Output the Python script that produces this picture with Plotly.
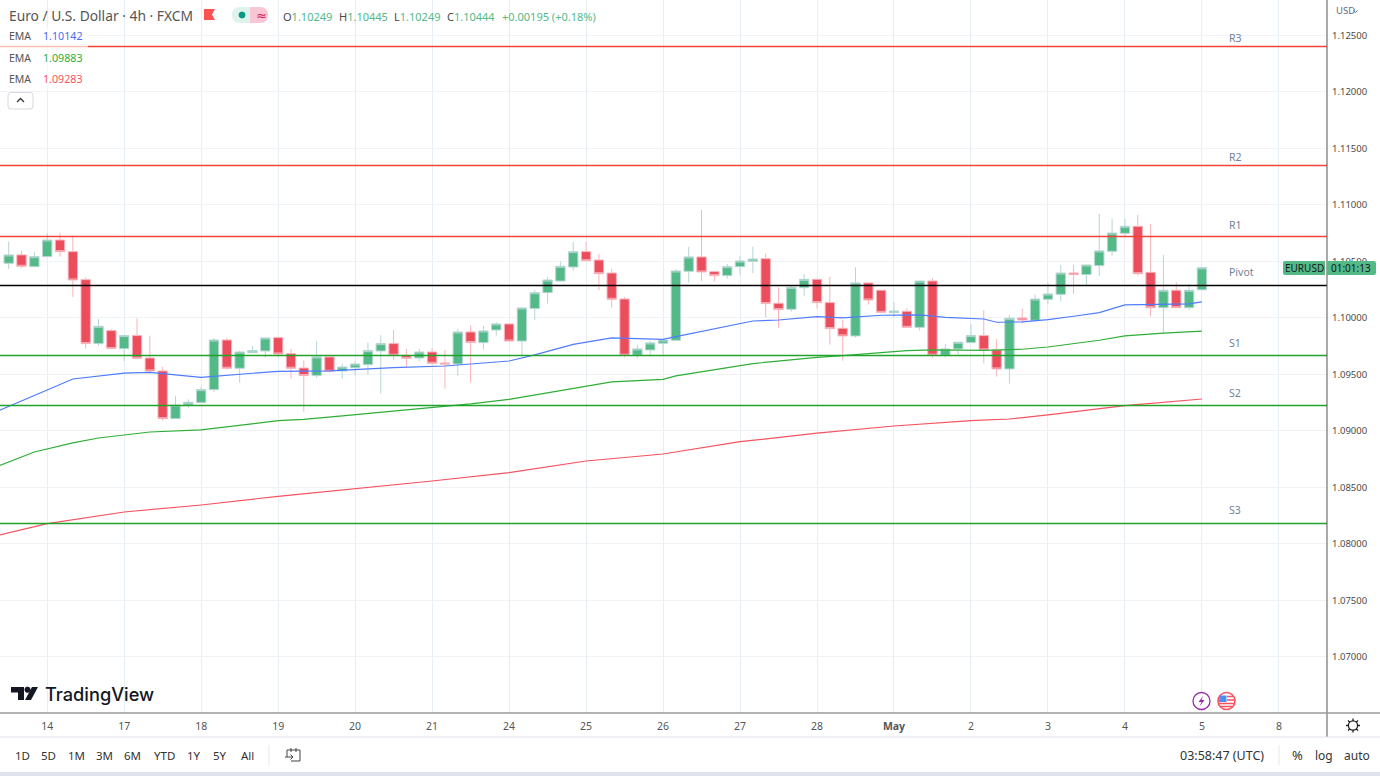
import plotly.graph_objects as go

W, H = 1380, 776
PLOT_R, PLOT_B = 1327, 713

GREEN = "#53b987"
RED = "#eb4d5c"

# 4h candles, oldest first
opens = [1.10484, 1.10558, 1.10454, 1.10543, 1.10690, 1.10587, 1.10339, 1.09773, 1.09888, 1.09729,
         1.09844, 1.09646, 1.09531, 1.09109, 1.09230, 1.09251, 1.09366, 1.09805, 1.09555, 1.09693,
         1.09708, 1.09826, 1.09684, 1.09557, 1.09490, 1.09655, 1.09531, 1.09560, 1.09587, 1.09708,
         1.09773, 1.09670, 1.09646, 1.09699, 1.09602, 1.09593, 1.09876, 1.09782, 1.09894, 1.09947,
         1.09796, 1.10083, 1.10224, 1.10327, 1.10451, 1.10587, 1.10513, 1.10398, 1.10168, 1.09670,
         1.09717, 1.09776, 1.09802, 1.10413, 1.10540, 1.10410, 1.10375, 1.10454, 1.10502, 1.10525,
         1.10130, 1.10077, 1.10268, 1.10342, 1.10136, 1.09909, 1.09841, 1.10310, 1.10245, 1.10047,
         1.10059, 1.09917, 1.10327, 1.09670, 1.09726, 1.09782, 1.09844, 1.09717, 1.09549, 1.10000,
         1.09979, 1.10165, 1.10209, 1.10398, 1.10384, 1.10463, 1.10590, 1.10749, 1.10811, 1.10404,
         1.10091, 1.10245, 1.10091, 1.10249]
highs = [1.10676, 1.10593, 1.10587, 1.10749, 1.10755, 1.10729, 1.10360, 1.09991, 1.09900, 1.09844,
         1.09997, 1.09844, 1.09569, 1.09310, 1.09280, 1.09392, 1.09823, 1.09823, 1.09711, 1.09752,
         1.09823, 1.09835, 1.09726, 1.09625, 1.09793, 1.09655, 1.09593, 1.09616, 1.09782, 1.09847,
         1.09894, 1.09726, 1.09726, 1.09732, 1.09717, 1.09903, 1.09935, 1.09929, 1.09962, 1.09947,
         1.10094, 1.10251, 1.10363, 1.10502, 1.10673, 1.10673, 1.10566, 1.10434, 1.10186, 1.09761,
         1.09796, 1.09811, 1.10431, 1.10628, 1.10956, 1.10410, 1.10478, 1.10549, 1.10631, 1.10569,
         1.10271, 1.10292, 1.10389, 1.10342, 1.10363, 1.09982, 1.10448, 1.10310, 1.10245, 1.10142,
         1.10086, 1.10327, 1.10351, 1.09767, 1.09785, 1.09947, 1.10068, 1.09814, 1.10027, 1.10080,
         1.10209, 1.10307, 1.10469, 1.10469, 1.10469, 1.10920, 1.10876, 1.10876, 1.10912, 1.10832,
         1.10558, 1.10316, 1.10301, 1.10445]
lows = [1.10434, 1.10440, 1.10454, 1.10543, 1.10543, 1.10186, 1.09729, 1.09755, 1.09729, 1.09619,
        1.09643, 1.09510, 1.09091, 1.09109, 1.09206, 1.09251, 1.09345, 1.09540, 1.09428, 1.09693,
        1.09649, 1.09652, 1.09463, 1.09171, 1.09472, 1.09516, 1.09463, 1.09490, 1.09498, 1.09330,
        1.09628, 1.09563, 1.09616, 1.09584, 1.09375, 1.09490, 1.09428, 1.09720, 1.09844, 1.09796,
        1.09664, 1.09982, 1.10127, 1.10327, 1.10419, 1.10507, 1.10248, 1.10094, 1.09652, 1.09643,
        1.09670, 1.09678, 1.09802, 1.10313, 1.10327, 1.10322, 1.10348, 1.10384, 1.10398, 1.10006,
        1.09914, 1.10056, 1.10195, 1.10083, 1.09764, 1.09622, 1.09826, 1.10118, 1.10047, 1.10006,
        1.09917, 1.09888, 1.09646, 1.09649, 1.09673, 1.09782, 1.09599, 1.09481, 1.09419, 1.09950,
        1.09979, 1.10124, 1.10145, 1.10212, 1.10292, 1.10372, 1.10552, 1.10714, 1.10375, 1.10012,
        1.09864, 1.10091, 1.10068, 1.10249]
closes = [1.10558, 1.10457, 1.10543, 1.10690, 1.10587, 1.10336, 1.09773, 1.09926, 1.09729, 1.09844,
          1.09643, 1.09531, 1.09109, 1.09230, 1.09254, 1.09366, 1.09805, 1.09555, 1.09699, 1.09711,
          1.09823, 1.09681, 1.09555, 1.09490, 1.09655, 1.09528, 1.09566, 1.09593, 1.09711, 1.09773,
          1.09670, 1.09643, 1.09699, 1.09599, 1.09593, 1.09876, 1.09782, 1.09885, 1.09947, 1.09796,
          1.10088, 1.10224, 1.10336, 1.10457, 1.10587, 1.10507, 1.10392, 1.10165, 1.09670, 1.09726,
          1.09779, 1.09805, 1.10416, 1.10540, 1.10407, 1.10375, 1.10454, 1.10504, 1.10522, 1.10127,
          1.10074, 1.10271, 1.10342, 1.10136, 1.09906, 1.09841, 1.10310, 1.10159, 1.10050, 1.10062,
          1.09917, 1.10327, 1.09670, 1.09726, 1.09785, 1.09844, 1.09717, 1.09549, 1.09997, 1.09982,
          1.10168, 1.10212, 1.10398, 1.10384, 1.10469, 1.10593, 1.10752, 1.10811, 1.10392, 1.10091,
          1.10245, 1.10091, 1.10245, 1.10444]

# session ticks on the time axis
tick_bars = [3, 9, 15, 21, 27, 33, 39, 45, 51, 57, 63, 69, 75, 81, 87, 93, 99]
tick_names = ["14", "17", "18", "19", "20", "21", "24", "25", "26", "27", "28", "<b>May</b>", "2", "3", "4", "5", "8"]
price_ticks = [1.07, 1.075, 1.08, 1.085, 1.09, 1.095, 1.10, 1.105, 1.11, 1.115, 1.12, 1.125]

# EMAs, read at the bars where the slope changes
ema_fast_bars = [-1, 5, 9, 11, 15, 19, 21, 25, 30, 34, 39, 41, 44, 47, 51, 52, 58, 60, 63, 65,
                 68, 71, 73, 76, 77, 79, 81, 83, 85, 87, 88, 92, 93]
ema_fast = [1.09168, 1.09460, 1.09511, 1.09519, 1.09475, 1.09511, 1.09528, 1.09531, 1.09560, 1.09575,
            1.09619, 1.09673, 1.09767, 1.09823, 1.09811, 1.09835, 1.09973, 1.09982, 1.10012, 1.10000,
            1.10024, 1.10027, 1.10006, 1.09991, 1.09962, 1.09965, 1.09985, 1.10015, 1.10047, 1.10115,
            1.10118, 1.10124, 1.10142]
ema_mid_bars = [-1, 2, 5, 7, 11, 15, 21, 23, 26, 36, 39, 42, 47, 51, 52, 58, 63, 65, 70, 72,
                76, 79, 81, 85, 87, 90, 93]
ema_mid = [1.08681, 1.08814, 1.08894, 1.08938, 1.08991, 1.09009, 1.09091, 1.09103, 1.09133, 1.09239,
           1.09280, 1.09339, 1.09434, 1.09457, 1.09487, 1.09596, 1.09652, 1.09666, 1.09711, 1.09717,
           1.09714, 1.09723, 1.09743, 1.09803, 1.09841, 1.09865, 1.09883]
ema_slow_bars = [-1, 3, 9, 15, 21, 27, 33, 39, 45, 51, 57, 63, 69, 75, 78, 81, 87, 93]
ema_slow = [1.08071, 1.08180, 1.08283, 1.08345, 1.08422, 1.08487, 1.08557, 1.08631, 1.08734, 1.08796,
            1.08905, 1.08980, 1.09044, 1.09091, 1.09106, 1.09142, 1.09224, 1.09283]

# pivot levels
level_names = ["R3", "R2", "R1", "Pivot", "S1", "S2", "S3"]
level_values = [1.12403, 1.11350, 1.10721, 1.10288, 1.09668, 1.09226, 1.08181]
level_colors = ["#f44336", "#f44336", "#f44336", "#000000", "#1fa32a", "#1fa32a", "#1fa32a"]
level_label_y = [38, 157, 225, 272, 343, 393, 510]

range_names = ["1D", "5D", "1M", "3M", "6M", "YTD", "1Y", "5Y", "All"]
range_x = [22, 48, 76, 104, 132, 164, 194, 220, 247]


def px_x(x):
    return x / W


def px_y(y):
    return 1 - y / H


def px_path(cmd):
    # "M 10 20 L 30 40" in screen pixels -> paper coordinates
    out = []
    parts = cmd.split()
    i = 0
    while i < len(parts):
        if parts[i].isalpha():
            out.append(parts[i])
            i += 1
        else:
            out.append(f"{px_x(float(parts[i])):.5f},{px_y(float(parts[i + 1])):.5f}")
            i += 2
    return " ".join(out)


def label(x, y, text, size=11, color="#4a4a4a", anchor="left", family="Noto Sans", weight=None):
    font = dict(size=size, color=color, family=family)
    if weight:
        font["weight"] = weight
    return dict(x=px_x(x), y=px_y(y), xref="paper", yref="paper", text=text, showarrow=False,
                xanchor=anchor, yanchor="middle", font=font, borderpad=0)


def path(cmd, fill=None, line=None, width=1):
    return dict(type="path", xref="paper", yref="paper", path=px_path(cmd),
                fillcolor=fill if fill else "rgba(0,0,0,0)",
                line=dict(color=line if line else "rgba(0,0,0,0)", width=width if line else 0))


def circle(cx, cy, r, fill, line=None, width=1):
    return dict(type="circle", xref="paper", yref="paper",
                x0=px_x(cx - r), x1=px_x(cx + r), y0=px_y(cy + r), y1=px_y(cy - r),
                fillcolor=fill, line=dict(color=line if line else fill, width=width))


fig = go.Figure()

for bars, vals, col in [(ema_slow_bars, ema_slow, "#f7525f"),
                        (ema_mid_bars, ema_mid, "#2fae37"),
                        (ema_fast_bars, ema_fast, "#4f7bff")]:
    fig.add_trace(go.Scatter(x=bars, y=vals, mode="lines", line=dict(color=col, width=1.2), hoverinfo="skip"))

for val, col in zip(level_values, level_colors):
    fig.add_trace(go.Scatter(x=[-5, 110], y=[val, val], mode="lines", line=dict(color=col, width=1.4), hoverinfo="skip"))

fig.add_trace(go.Candlestick(
    x=list(range(len(opens))), open=opens, high=highs, low=lows, close=closes,
    increasing=dict(line=dict(color="#b5d6d4", width=1), fillcolor=GREEN),
    decreasing=dict(line=dict(color="#f8b4bc", width=1), fillcolor=RED),
    hoverinfo="skip",
))

shapes = [
    # legend backdrop softens what passes behind it
    dict(type="rect", xref="paper", yref="paper", x0=0, x1=px_x(88), y0=px_y(89), y1=px_y(27),
         fillcolor="rgba(255,255,255,0.65)", line=dict(width=0)),
    # axis frame
    path(f"M {PLOT_R} 0 L {PLOT_R} 737", line="#555555", width=1),
    path(f"M 0 {PLOT_B} L {W} {PLOT_B}", line="#9a9a9a", width=1.5),
    path(f"M 0 737 L {W} 737", line="#e0e3eb", width=1),
    path("M 269 745 L 269 765", line="#e6e8ee", width=1),
    path("M 1279 745 L 1279 765", line="#e6e8ee", width=1),
    dict(type="rect", xref="paper", yref="paper", x0=0, x1=1, y0=0, y1=px_y(772),
         fillcolor="#e0e3eb", line=dict(width=0)),
    # header flag and status pill
    path("M 204 9 L 215 9 L 212 14.5 L 215 20 L 204 20 Z", fill="#ff5252"),
    path("M 250 7 L 240 7 Q 232 7 232 15 Q 232 23 240 23 L 250 23 Z", fill="#dff3ee"),
    path("M 250 7 L 260 7 Q 268 7 268 15 Q 268 23 260 23 L 250 23 Z", fill="#f9c6d6"),
    circle(242, 15, 3, "#089981"),
    # collapse button
    path("M 11 92.5 L 30 92.5 Q 33 92.5 33 95.5 L 33 106 Q 33 109 30 109 L 11 109 Q 8 109 8 106 L 8 95.5 Q 8 92.5 11 92.5 Z",
         fill="#ffffff", line="#d6d8de", width=1),
    path("M 17 102 L 20.5 98.5 L 24 102", line="#333333", width=1.3),
    # logo mark
    path("M 11 687 L 24 687 L 24 700 L 18 700 L 18 692.5 L 11 692.5 Z", fill="#131722"),
    circle(27.5, 689.7, 2.6, "#131722"),
    path("M 32 687 L 38 687 L 31 700 L 25 700 Z", fill="#131722"),
    # event markers
    circle(1201.5, 701, 8.5, "#ffffff", "#9c27b0", 1.3),
    path("M 1203.5 695.5 L 1198.5 702 L 1201.5 702 L 1199.5 706.5 L 1204.5 700 L 1201.5 700 Z", fill="#9c27b0"),
    circle(1226.5, 701, 8.5, "#ffffff", "#f7525f", 1.6),
    path("M 1219.5 695.5 L 1226.5 695.5 L 1226.5 702 L 1219 702 Z", fill="#4f8ef0"),
    path("M 1227 696.5 L 1233 696.5 M 1227 700 L 1234.5 700 M 1219 703.5 L 1234.5 703.5 M 1221 706.5 L 1232 706.5", line="#f7525f", width=1.3),
    # price tags
    path("M 1285 261 L 1325 261 L 1325 275 L 1285 275 Q 1283 275 1283 273 L 1283 263 Q 1283 261 1285 261 Z", fill=GREEN),
    path("M 1327 261 L 1374 261 Q 1376 261 1376 263 L 1376 273 Q 1376 275 1374 275 L 1327 275 Z", fill=GREEN),
    # currency menu chevron
    path("M 1353.5 10.5 L 1355.5 12.5 L 1357.5 10.5", line="#5b6b8c", width=1),
    # date-range icon
    path("M 287 757 L 287 750 L 300 750 L 300 761 L 291 761 M 291 748 L 291 752 M 296 748 L 296 752 M 285 757 L 293 757 M 290.5 754.5 L 293 757 L 290.5 759.5",
         line="#444444", width=1),
    # settings gear
    circle(1353, 725.5, 4.6, "#ffffff", "#222222", 1.3),
    path("M 1353 718.5 L 1353 721 M 1353 730 L 1353 732.5 M 1346 725.5 L 1348.5 725.5 M 1357.5 725.5 L 1360 725.5 "
         "M 1348 720.5 L 1349.8 722.3 M 1356.2 728.7 L 1358 730.5 M 1358 720.5 L 1356.2 722.3 M 1349.8 728.7 L 1348 730.5",
         line="#222222", width=1.3),
]

tick_green = "#53b987"
annotations = [
    label(8, 15, "Euro / U.S. Dollar · 4h · FXCM", size=13.8, color="#555555"),
    label(255, 15, "≈", size=13, color="#d81b60", family="DejaVu Sans"),
    label(282, 16, f"O<span style='color:{tick_green}'>1.10249</span>", size=11),
    label(338, 16, f"H<span style='color:{tick_green}'>1.10445</span>", size=11),
    label(393, 16, f"L<span style='color:{tick_green}'>1.10249</span>", size=11),
    label(446, 16, f"C<span style='color:{tick_green}'>1.10444</span>", size=11),
    label(501, 16, "+0.00195 (+0.18%)", size=11, color=tick_green),
    label(8, 36, "EMA", size=10.5, color="#555555"),
    label(42, 36, "1.10142", size=10.7, color="#4a6cf7"),
    label(8, 58, "EMA", size=10.5, color="#555555"),
    label(42, 58, "1.09883", size=10.7, color="#2fae37"),
    label(8, 79, "EMA", size=10.5, color="#555555"),
    label(42, 79, "1.09283", size=10.7, color="#f7525f"),
    label(43.5, 694, "TradingView", size=18.2, color="#131722", family="Inter", weight=500),
    label(1335, 11, "USD", size=9.5, color="#5b6b8c"),
    label(1304, 268, "EURUSD", size=10, color="#131722", anchor="center"),
    label(1351, 268, "01:01:13", size=10, color="#131722", anchor="center"),
    label(1221.5, 755, "03:58:47 (UTC)", size=12.5, color="#333333", anchor="center"),
    label(1297, 755, "%", size=13, color="#333333", anchor="center"),
    label(1324, 755, "log", size=12, color="#333333", anchor="center"),
    label(1357, 755, "auto", size=12, color="#333333", anchor="center"),
]
for name, x in zip(range_names, range_x):
    annotations.append(label(x, 755, name, size=11.5, color="#333333", anchor="center"))
for name, y in zip(level_names, level_label_y):
    annotations.append(label(1228, y, name, size=10.5, color="#6f8299"))

fig.update_layout(
    width=W, height=H,
    margin=dict(l=0, r=0, t=0, b=0),
    paper_bgcolor="#ffffff", plot_bgcolor="#ffffff",
    showlegend=False,
    boxgap=0.27,
    boxgroupgap=0,
    shapes=shapes,
    annotations=annotations,
    xaxis=dict(
        domain=[0, PLOT_R / W], range=[-0.678, 102.75],
        tickmode="array", tickvals=tick_bars, ticktext=tick_names,
        showgrid=True, gridcolor="#e7eff4", gridwidth=1, zeroline=False,
        showline=False, ticks="", rangeslider=dict(visible=False),
        ticklabelstandoff=5,
        tickfont=dict(size=10.5, color="#555555", family="Noto Sans"),
    ),
    yaxis=dict(
        domain=[1 - PLOT_B / H, 1], range=[1.06504, 1.12814], side="right",
        tickmode="array", tickvals=price_ticks, ticktext=[f"{v:.5f}" for v in price_ticks],
        showgrid=True, gridcolor="#eff2f6", gridwidth=1, zeroline=False,
        showline=False, ticks="",
        ticklabelstandoff=4,
        tickfont=dict(size=9.5, color="#4a4a4a", family="Noto Sans"),
    ),
)

fig.write_html("out.html", config=dict(displayModeBar=False),
               post_script="document.body.style.margin='0';")
